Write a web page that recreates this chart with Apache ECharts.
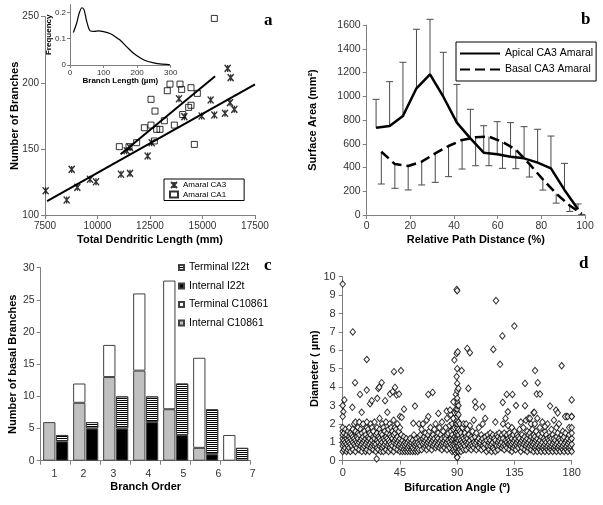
<!DOCTYPE html>
<html><head><meta charset="utf-8">
<script src="https://cdn.jsdelivr.net/npm/echarts/dist/echarts.min.js"></script>
<style>html,body{margin:0;padding:0;background:#fff}#c{width:603px;height:505px}</style>
</head><body><div id="c"></div>
<script>
// ---------- Panel a ----------
var ca3X = [7532, 8532, 8770, 9040, 9643, 9929, 11119, 11548, 11389, 11550, 12389, 12579, 13881, 14135, 14960, 15389, 15563, 16071, 16198, 16341, 16310, 16516];
var ca3Y = [118.4, 111.3, 134.5, 120.9, 127, 125.2, 130.8, 131.5, 148.6, 151, 144.6, 154.7, 188, 174.4, 174.9, 187, 175.6, 176.9, 210.9, 203.9, 185, 179.9];
var ca1X = [15563, 13452, 13325, 13929, 14008, 14452, 14754, 12548, 12738, 14341, 14452, 14056, 13183, 13659, 12548, 12230, 12817, 12976, 11865, 12706, 11500, 11040, 14611];
var ca1Y = [248.7, 199, 194, 199, 195, 196.3, 192, 187.5, 178.6, 181.4, 183, 176, 171.3, 168, 168, 166, 164.8, 164.8, 154.7, 156, 151.7, 151.7, 153.4];
var ca3FitX = [7600, 17500], ca3FitY = [110.5, 198.8];
var ca1FitX = [11100, 15600], ca1FitY = [146, 205];
// inset
var branchLen = [10, 20, 28, 36, 42, 50, 60, 72, 85, 100, 119, 135, 149, 170, 189, 210, 228, 250, 268, 298];
var branchFreq = [0.124, 0.16, 0.2, 0.218, 0.21, 0.165, 0.13, 0.128, 0.13, 0.127, 0.12, 0.108, 0.095, 0.068, 0.045, 0.027, 0.015, 0.008, 0.004, 0.001];
// ---------- Panel b ----------
var apicalX = [4.3, 10.5, 16.6, 22.8, 29, 35.1, 41.3, 47.5, 53.6, 59.8, 65.9, 72.1, 78.3, 84.4, 90.6, 96.8];
var apicalY = [735, 750, 834, 1067, 1185, 996, 778, 645, 525, 511, 491, 477, 441, 393, 211, 48];
var apicalTop = [974, 1123, 1286, 1564, 1648, 1370, 1100, 890, 752, 786, 778, 744, 722, 665, 435, 93];
var basalX = [6.7, 12.9, 19, 25.2, 31.4, 37.5, 43.7, 49.9, 56, 62.2, 68.3, 74.5, 80.7, 86.8, 93, 98.5];
var basalY = [533, 429, 413, 449, 519, 581, 632, 654, 660, 615, 550, 430, 300, 180, 80, 10];
var basalLow = [261, 225, 211, 253, 275, 323, 387, 415, 415, 393, 390, 320, 210, 100, 30, 5];
// ---------- Panel c ----------
var orders = ['1', '2', '3', '4', '5', '6', '7'];
var internalC = [6, 9, 13, 14, 8, 2, 0];
var terminalC = [0, 3, 5, 12, 20, 14, 4];
var internalI = [3, 5, 5, 6, 4, 1, 0];
var terminalI = [1, 1, 5, 4, 8, 7, 2];
// ---------- Panel d ----------
var angleBand = [
[0,0.5],[0,0.8],[0,1.0],[0,1.2],[0,1.4],[0,1.6],[0,1.8],[1,0.6],[1,0.9],[1,1.1],[1,1.5],[2,0.7],[2,1.0],[2,1.3],[2,1.7],[3,0.5],[3,0.9],[3,1.2],[3,1.4],[4,0.6],[4,0.8],[4,1.1],[4,1.6],[5,0.7],[5,1.0],[5,1.3],[5,1.8],[6,0.5],[6,0.9],[6,1.2],[6,1.5],[7,0.8],[7,1.1],[7,1.4],[8,0.6],[8,1.0],[8,1.3],[8,1.7],[9,0.9],[9,1.2],[9,2.0],[10,0.5],[10,0.8],[10,1.1],[10,1.6],[10,2.1],
[11,0.7],[11,1.0],[11,1.3],[12,0.9],[12,1.2],[12,1.5],[12,1.8],[13,0.6],[13,1.0],[13,1.4],[13,2.1],[14,0.8],[14,1.1],[14,1.7],[15,0.5],[15,0.9],[15,1.2],[15,1.5],[16,0.7],[16,1.0],[16,1.3],[16,2.0],[17,0.8],[17,1.1],[17,1.6],[18,0.5],[18,0.9],[18,1.2],[18,1.4],[19,0.6],[19,1.0],[19,1.8],[19,2.1],[20,0.8],[20,1.1],[20,1.3],[20,1.7],
[21,0.5],[21,0.9],[21,1.2],[21,1.5],[22,0.7],[22,1.0],[22,1.4],[22,2.0],[23,0.8],[23,1.1],[23,1.8],[24,0.6],[24,0.9],[24,1.3],[24,1.6],[25,0.8],[25,1.0],[25,1.2],[25,2.1],[26,0.5],[26,0.9],[26,1.4],[27,0.7],[27,1.1],[27,1.5],[27,1.8],[28,0.6],[28,1.0],[28,1.3],[29,0.8],[29,1.2],[29,1.7],[29,2.3],[30,0.5],[30,0.9],[30,1.1],[30,1.5],
[31,0.7],[31,1.0],[31,1.4],[31,2.0],[32,0.5],[32,0.8],[32,1.2],[32,1.8],[33,0.9],[33,1.1],[33,1.6],[34,0.6],[34,1.0],[34,1.3],[34,2.1],[35,0.8],[35,1.2],[35,1.5],[36,0.5],[36,0.9],[36,1.1],[36,1.7],[37,0.7],[37,1.0],[37,1.4],[37,2.0],[38,0.6],[38,0.9],[38,1.3],[38,1.8],[39,0.8],[39,1.2],[39,1.6],[40,0.5],[40,1.0],[40,1.4],[40,2.2],[41,0.7],[41,1.1],[41,1.5],[41,1.8],[42,0.9],[42,1.2],[42,1.7],[43,0.6],[43,1.0],[43,1.3],[43,2.0],[44,0.8],[44,1.1],[44,1.6],[45,0.5],[45,0.9],[45,1.2],[45,1.8],[45,2.4],
[46,0.7],[46,1.0],[46,1.4],[47,0.5],[47,0.8],[47,1.1],[48,0.6],[48,0.9],[48,1.3],[49,0.5],[49,0.8],[49,1.0],[50,0.6],[50,0.9],[50,1.2],[51,0.5],[51,0.7],[51,1.0],[52,0.6],[52,0.8],[52,1.1],[53,0.5],[53,0.9],[53,1.2],[54,0.6],[54,0.8],[54,1.0],[55,0.5],[55,0.7],[55,1.1],[56,0.6],[56,0.9],[56,1.4],[57,0.5],[57,0.8],[57,1.0],[58,0.6],[58,0.9],[58,1.2],[59,0.5],[59,0.7],[59,1.0],[60,0.6],[60,0.9],[60,1.3],[60,2.0],
[61,0.8],[61,1.1],[61,1.4],[62,0.6],[62,1.0],[62,1.7],[63,0.9],[63,1.2],[63,2.0],[64,0.7],[64,1.0],[64,1.3],[65,0.8],[65,1.1],[65,1.5],[66,0.6],[66,0.9],[66,1.2],[66,2.2],[67,0.8],[67,1.0],[67,1.4],[68,0.7],[68,1.1],[68,1.6],[69,0.9],[69,1.2],[69,1.8],[70,0.6],[70,1.0],[70,1.3],[71,0.8],[71,1.1],[71,1.4],[72,0.9],[72,1.2],[72,1.7],[73,0.7],[73,1.0],[73,2.0],[74,0.8],[74,1.1],[74,1.3],[75,0.9],[75,1.2],[75,1.5],[76,0.7],[76,1.0],[76,1.8],[77,0.8],[77,1.1],[77,1.4],[78,0.6],[78,0.9],[78,1.2],[78,2.1],[79,0.8],[79,1.0],[79,1.6],[80,0.7],[80,1.1],[80,1.3],[81,0.9],[81,1.2],[81,1.8],[82,0.6],[82,1.0],[82,1.4],[82,2.3],[83,0.8],[83,1.1],[83,1.5],[84,0.7],[84,1.0],[84,1.9],[85,0.9],[85,1.2],[85,1.6],[85,2.5],
[86,0.5],[86,0.8],[86,1.1],[86,1.4],[86,2.0],[87,0.6],[87,0.9],[87,1.2],[87,1.7],[87,2.3],[88,0.5],[88,0.8],[88,1.0],[88,1.3],[88,1.8],[88,2.6],[89,0.4],[89,0.7],[89,1.0],[89,1.2],[89,1.5],[89,2.0],[89,2.8],[89,3.6],[90,0.2],[90,0.5],[90,0.8],[90,1.0],[90,1.2],[90,1.4],[90,1.6],[90,1.8],[90,2.0],[90,2.2],[90,2.4],[90,2.6],[90,2.8],[90,3.0],[90,3.2],[90,3.4],[90,3.8],[90,4.2],[91,0.5],[91,0.8],[91,1.1],[91,1.4],[91,1.7],[91,2.1],[91,2.5],[91,3.0],[92,0.6],[92,0.9],[92,1.2],[92,1.6],[92,2.0],[93,0.5],[93,0.8],[93,1.1],[93,1.5],[94,0.7],[94,1.0],[94,1.3],[94,1.8],[95,0.6],[95,0.9],[95,1.2],[95,2.0],
[96,0.8],[96,1.1],[96,1.5],[97,0.6],[97,1.0],[97,1.3],[97,2.0],[98,0.9],[98,1.2],[98,1.7],[99,0.7],[99,1.0],[99,1.4],[100,0.8],[100,1.1],[100,1.9],[101,0.6],[101,0.9],[101,1.3],[102,0.8],[102,1.2],[102,1.6],[103,0.7],[103,1.0],[103,2.2],[104,0.9],[104,1.3],[105,0.6],[105,1.0],[105,1.5],[106,0.8],[106,1.1],[107,0.7],[107,1.2],[107,1.8],[108,0.9],[108,1.0],[109,0.6],[109,1.1],[109,1.4],[110,0.8],[110,1.2],[110,2.0],[111,0.7],[111,1.0],[112,0.9],[112,1.3],[112,2.3],[113,0.5],[113,1.1],[114,0.8],[114,1.4],[115,0.6],[115,1.0],[115,1.2],[116,0.8],[116,1.1],[116,1.5],[117,0.5],[117,0.9],[117,1.3],[118,0.7],[118,1.0],[118,1.4],[119,0.6],[119,1.2],[120,0.5],[120,0.9],[120,1.1],[120,2.1],[121,0.8],[121,1.4],[122,0.6],[122,1.0],[122,1.3],[123,0.8],[123,1.1],[123,1.5],[124,0.9],[124,1.2],[125,0.7],[125,1.0],[125,1.4],[126,0.8],[126,1.2],[126,2.0],[127,0.6],[127,0.9],[127,1.5],[128,0.8],[128,1.1],[128,2.3],[129,0.7],[129,1.0],[129,1.4],[130,0.9],[130,1.2],[130,1.9],
[131,0.6],[131,0.9],[131,1.1],[131,1.5],[132,0.8],[132,1.0],[132,1.3],[133,0.5],[133,0.9],[133,1.2],[133,1.8],[134,0.7],[134,1.0],[134,1.4],[135,0.8],[135,1.1],[135,1.6],[136,0.6],[136,0.9],[136,1.2],[137,0.8],[137,1.0],[137,1.4],[138,0.7],[138,1.1],[138,1.3],[139,0.9],[139,1.2],[139,1.7],[140,0.5],[140,0.8],[140,1.0],[140,2.1],[141,0.7],[141,1.1],[141,1.4],[142,0.9],[142,1.2],[142,1.8],[143,0.6],[143,1.0],[143,1.3],[144,0.8],[144,1.1],[144,2.2],[145,0.5],[145,0.9],[145,1.2],[145,1.6],[146,0.7],[146,1.0],[146,1.4],[146,2.3],[147,0.8],[147,1.1],[147,1.5],[148,0.6],[148,0.9],[148,1.3],[148,2.0],[149,0.8],[149,1.0],[149,1.7],[150,0.5],[150,0.9],[150,1.2],[150,1.4],[150,2.6],
[151,0.7],[151,1.0],[151,1.3],[151,2.0],[152,0.6],[152,0.8],[152,1.1],[152,1.6],[153,0.5],[153,0.9],[153,1.2],[153,2.3],[154,0.7],[154,1.0],[154,1.4],[155,0.6],[155,0.8],[155,1.1],[155,1.8],[156,0.5],[156,0.9],[156,1.3],[157,0.7],[157,1.0],[157,1.5],[157,2.1],[158,0.6],[158,0.8],[158,1.2],[159,0.5],[159,0.9],[159,1.1],[159,1.6],[160,0.7],[160,1.0],[160,1.4],[161,0.6],[161,0.8],[161,1.2],[161,2.0],[162,0.5],[162,0.9],[162,1.1],[163,0.7],[163,1.0],[163,1.3],[164,0.6],[164,0.8],[164,1.2],[164,1.7],[165,0.5],[165,0.9],[165,1.4],[166,0.7],[166,1.0],[166,1.2],[166,2.2],[167,0.6],[167,0.8],[167,1.1],[168,0.5],[168,0.9],[168,1.3],[168,1.8],[169,0.7],[169,1.0],[169,1.5],[170,0.6],[170,0.8],[170,1.2],[170,2.0],[171,0.5],[171,0.9],[171,1.1],[172,0.7],[172,1.0],[172,1.4],[173,0.6],[173,0.8],[173,1.2],[173,1.6],[174,0.5],[174,0.9],[174,1.3],[175,0.7],[175,1.0],[175,1.5],[176,0.6],[176,0.8],[176,1.1],[176,2.4],[177,0.5],[177,0.9],[177,1.2],[178,0.7],[178,1.0],[178,1.4],[178,1.8],[179,0.6],[179,0.8],[179,1.1],[180,0.5],[180,0.9],[180,1.2],[180,1.5],[180,1.8],[180,2.4]
];
var angleHigh = [
[0,9.6],[7.9,7.0],[9.7,4.24],[0,3.0],[1.3,3.3],[0.5,2.66],[0,2.4],[7.6,2.9],[18.9,5.5],[18.9,3.84],[13.6,3.6],[14.9,2.63],[21.5,3.1],[22.8,3.26],[27.2,3.39],[28,3.93],[28.8,4.0],[30.6,4.24],[33.3,3.26],[35.1,2.63],[37.2,3.62],[39.3,3.75],[40.3,4.84],[41.1,3.98],[42.4,3.57],[44.3,3.62],[45.8,4.9],[48.2,2.8],[46.4,2.36],[56.8,2.97],[55.5,2.03],[67.3,3.6],[70.7,3.71],[67.3,2.4],[75.2,2.57],[81.7,2.7],[87,3.2],[84.4,2.75],[87.8,5.47],[89.6,5.83],[90.4,5.92],[89.6,9.31],[90,9.24],[90,5.0],[89.6,4.57],[90.9,3.93],[93.5,4.9],[97.9,6.1],[100,5.87],[98.8,3.93],[104,3.2],[104.6,2.9],[110,2.93],[118.4,6.05],[120.5,8.7],[123.7,5.24],[125.5,6.78],[128.9,3.6],[133.4,3.6],[134.9,7.32],[125.8,3.17],[129.8,2.66],[136.2,3.0],[143.3,4.2],[143.3,2.99],[147.2,2.3],[151.2,4.9],[153.3,4.24],[152.5,3.62],[155.1,3.62],[150.6,2.63],[163,2.97],[159,1.85],[167.7,2.75],[169,2.6],[172.1,5.16],[174.8,2.4],[176.9,2.4],[180,3.3],[180,2.4],[26.7,0.1],[90,0.18]
];

var F = 'Arial, "Liberation Sans", sans-serif';
function zip(a, b) { return a.map(function (v, i) { return [v, b[i]]; }); }
function plain(v) { return String(v); }
function axisBase(extra) {
  var o = {
    type: 'value', nameLocation: 'middle', nameMoveOverlap: false,
    nameTextStyle: { fontFamily: F, fontWeight: 'bold', fontSize: 11, color: '#000' },
    axisLine: { show: true, lineStyle: { color: '#808080', width: 1 } },
    axisTick: { show: true, inside: false, length: 4, lineStyle: { color: '#808080' } },
    axisLabel: { fontFamily: F, fontSize: 10.5, color: '#333', margin: 6, formatter: plain },
    splitLine: { show: false }
  };
  for (var k in extra) o[k] = extra[k];
  return o;
}
function grid(l, t, w, h) { return { left: l, top: t, width: w, height: h, containLabel: false, outerBoundsMode: 'none' }; }

var asterisk = 'path://M0,0L10,10M10,0L0,10M5,0L5,10';
function errRender(params, api) {
  var x = api.value(0), v = api.value(1), e = api.value(2);
  var a = api.coord([x, v]), b = api.coord([x, e]);
  var w = 3.5, st = { stroke: '#4a4a4a', lineWidth: 1 };
  return { type: 'group', children: [
    { type: 'line', shape: { x1: a[0], y1: a[1], x2: b[0], y2: b[1] }, style: st },
    { type: 'line', shape: { x1: b[0] - w, y1: b[1], x2: b[0] + w, y2: b[1] }, style: st }
  ] };
}
var labelShift = [-1.4, -2.4, -2.4, 2.6, 7.6, 12.6, 17];
var rich = {};
labelShift.forEach(function (d, i) {
  rich['s' + i] = { fontFamily: F, fontSize: 10.5, color: '#333', padding: d < 0 ? [0, -2 * d, 0, 0] : [0, 0, 0, 2 * d] };
});
function nz(arr) { return arr.map(function (v) { return v === 0 ? '-' : v; }); }
function barStyle(color, decal) { var s = { color: color, borderColor: '#404040', borderWidth: 1 }; if (decal) s.decal = decal; return s; }
var stripe = { symbol: 'rect', symbolSize: 1, dashArrayX: [1, 0], dashArrayY: [1, 1], color: '#000', rotation: 0 };

var option = {
  animation: false,
  backgroundColor: '#fff',
  grid: [
    grid(45, 16.7, 210, 198.3),
    grid(70, 4.6, 100.7, 60.4),
    grid(366.7, 25, 218.3, 190),
    grid(40.7, 267.7, 210, 193),
    grid(342.7, 276.7, 229, 184)
  ],
  xAxis: [
    axisBase({ gridIndex: 0, min: 7500, max: 17500, interval: 2500, name: 'Total Dendritic Length (mm)', nameGap: 19, axisLabel: { fontFamily: F, fontSize: 10, color: '#333', margin: 6, formatter: plain } }),
    axisBase({ gridIndex: 1, min: 0, max: 300, interval: 100, name: 'Branch Length (µm)', nameGap: 12, nameTextStyle: { fontFamily: F, fontWeight: 'bold', fontSize: 8, color: '#000' }, axisTick: { show: true, length: 3, lineStyle: { color: '#808080' } }, axisLabel: { fontFamily: F, fontSize: 8, color: '#333', margin: 4, formatter: plain } }),
    axisBase({ gridIndex: 2, min: 0, max: 100, interval: 20, name: 'Relative Path Distance (%)', nameGap: 19 }),
    axisBase({ gridIndex: 3, type: 'category', data: orders, name: 'Branch Order', nameGap: 21, axisTick: { show: true, length: 4, interval: 0, lineStyle: { color: '#808080' } },
      axisLabel: { margin: 8, interval: 0, formatter: function (v, i) { return '{s' + i + '|' + v + '}'; }, rich: rich } }),
    axisBase({ gridIndex: 4, min: 0, max: 180, interval: 45, name: 'Bifurcation Angle (º)', nameGap: 22, axisLabel: { fontFamily: F, fontSize: 11, color: '#333', margin: 7, formatter: plain } })
  ],
  yAxis: [
    axisBase({ gridIndex: 0, min: 100, max: 250, interval: 50, name: 'Number of Branches', nameGap: 25, axisLabel: { fontFamily: F, fontSize: 10, color: '#333', margin: 6, formatter: plain } }),
    axisBase({ gridIndex: 1, min: 0, max: 0.23, interval: 0.1, name: 'Frequency', nameGap: 17, nameTextStyle: { fontFamily: F, fontWeight: 'bold', fontSize: 8, color: '#000' }, axisTick: { show: true, length: 3, lineStyle: { color: '#808080' } }, axisLabel: { fontFamily: F, fontSize: 8, color: '#333', margin: 4, showMaxLabel: false, formatter: plain } }),
    axisBase({ gridIndex: 2, min: 0, max: 1600, interval: 200, name: 'Surface Area (mm²)', nameGap: 48 }),
    axisBase({ gridIndex: 3, min: 0, max: 30, interval: 5, name: 'Number of basal Branches', nameGap: 22 }),
    axisBase({ gridIndex: 4, min: 0, max: 10, interval: 1, name: 'Diameter ( µm)', nameGap: 22, axisLabel: { fontFamily: F, fontSize: 11, color: '#333', margin: 7, formatter: plain } })
  ],
  legend: [
    { left: 164, top: 179, orient: 'vertical', data: ['Amaral CA3', 'Amaral CA1'], itemWidth: 8, itemHeight: 6, itemGap: 1.5, padding: [2, 18, 2, 5], borderColor: '#000', borderWidth: 1, textStyle: { fontFamily: F, fontSize: 8, color: '#000' }, selectedMode: false },
    { left: 456, top: 42, orient: 'vertical', data: ['Apical CA3 Amaral', 'Basal CA3 Amaral'], itemWidth: 40, itemHeight: 10, itemGap: 5, padding: [6, 3, 6, 3], borderColor: '#000', borderWidth: 1, itemStyle: { opacity: 0, borderWidth: 0 }, textStyle: { fontFamily: F, fontSize: 10.5, color: '#000' }, selectedMode: false },
    { left: 178, top: 262, orient: 'vertical', data: ['Terminal I22t', 'Internal I22t', 'Terminal C10861', 'Internal C10861'], icon: 'rect', itemWidth: 5, itemHeight: 5, itemGap: 7.5, padding: 0, textStyle: { fontFamily: F, fontSize: 10.5, color: '#000' }, selectedMode: false }
  ],
  graphic: [
    { type: 'text', left: 264, top: 12, style: { text: 'a', font: 'bold 17px "Liberation Serif", serif', fill: '#000' } },
    { type: 'text', left: 581, top: 11, style: { text: 'b', font: 'bold 17px "Liberation Serif", serif', fill: '#000' } },
    { type: 'text', left: 264, top: 257, style: { text: 'c', font: 'bold 17px "Liberation Serif", serif', fill: '#000' } },
    { type: 'text', left: 579, top: 255, style: { text: 'd', font: 'bold 17px "Liberation Serif", serif', fill: '#000' } }
  ],
  series: [
    { name: 'Amaral CA3', type: 'scatter', xAxisIndex: 0, yAxisIndex: 0, data: zip(ca3X, ca3Y), symbol: asterisk, symbolSize: [6, 7], itemStyle: { color: 'rgba(0,0,0,0)', borderColor: '#000', borderWidth: 1.4 }, z: 3 },
    { name: 'Amaral CA1', type: 'scatter', xAxisIndex: 0, yAxisIndex: 0, data: zip(ca1X, ca1Y), symbol: 'rect', symbolSize: 6, itemStyle: { color: 'rgba(0,0,0,0)', borderColor: '#000', borderWidth: 1 }, z: 3 },
    { name: 'CA3 fit', type: 'line', xAxisIndex: 0, yAxisIndex: 0, data: zip(ca3FitX, ca3FitY), symbol: 'none', lineStyle: { color: '#000', width: 2 }, z: 2 },
    { name: 'CA1 fit', type: 'line', xAxisIndex: 0, yAxisIndex: 0, data: zip(ca1FitX, ca1FitY), symbol: 'none', lineStyle: { color: '#000', width: 2 }, z: 2 },
    { name: 'freq', type: 'line', xAxisIndex: 1, yAxisIndex: 1, data: zip(branchLen, branchFreq), symbol: 'none', smooth: 0.3, clip: false, lineStyle: { color: '#000', width: 1.2 } },
    { name: 'apicalErr', type: 'custom', xAxisIndex: 2, yAxisIndex: 2, renderItem: errRender, encode: { x: 0, y: [1, 2] }, data: apicalX.map(function (x, i) { return [x, apicalY[i], apicalTop[i]]; }), z: 1 },
    { name: 'basalErr', type: 'custom', xAxisIndex: 2, yAxisIndex: 2, renderItem: errRender, encode: { x: 0, y: [1, 2] }, data: basalX.map(function (x, i) { return [x, basalY[i], basalLow[i]]; }), z: 1 },
    { name: 'Apical CA3 Amaral', type: 'line', xAxisIndex: 2, yAxisIndex: 2, data: zip(apicalX, apicalY), symbol: 'none', lineStyle: { color: '#000', width: 2.5 }, itemStyle: { color: '#000' }, z: 3 },
    { name: 'Basal CA3 Amaral', type: 'line', xAxisIndex: 2, yAxisIndex: 2, data: zip(basalX, basalY), symbol: 'none', lineStyle: { color: '#000', width: 2.5, type: [10, 5] }, itemStyle: { color: '#000' }, z: 3 },
    { name: 'Internal C10861', type: 'bar', xAxisIndex: 3, yAxisIndex: 3, stack: 'C', data: nz(internalC), barWidth: 12.3, barGap: '4%', itemStyle: barStyle('#c0c0c0') },
    { name: 'Terminal C10861', type: 'bar', xAxisIndex: 3, yAxisIndex: 3, stack: 'C', data: nz(terminalC), barWidth: 12.3, barGap: '4%', itemStyle: barStyle('#ffffff') },
    { name: 'Internal I22t', type: 'bar', xAxisIndex: 3, yAxisIndex: 3, stack: 'I', data: nz(internalI), barWidth: 12.3, barGap: '4%', itemStyle: barStyle('#000000') },
    { name: 'Terminal I22t', type: 'bar', xAxisIndex: 3, yAxisIndex: 3, stack: 'I', data: nz(terminalI), barWidth: 12.3, barGap: '4%', itemStyle: barStyle('#ffffff', stripe) },
    { name: 'diam', type: 'scatter', xAxisIndex: 4, yAxisIndex: 4, data: angleBand.concat(angleHigh), symbol: 'diamond', symbolSize: [5.5, 6.5], itemStyle: { color: '#fff', borderColor: '#000', borderWidth: 1 }, clip: false }
  ]
};
var chart = echarts.init(document.getElementById('c'), null, { renderer: 'canvas' });
chart.setOption(option);
</script></body></html>
